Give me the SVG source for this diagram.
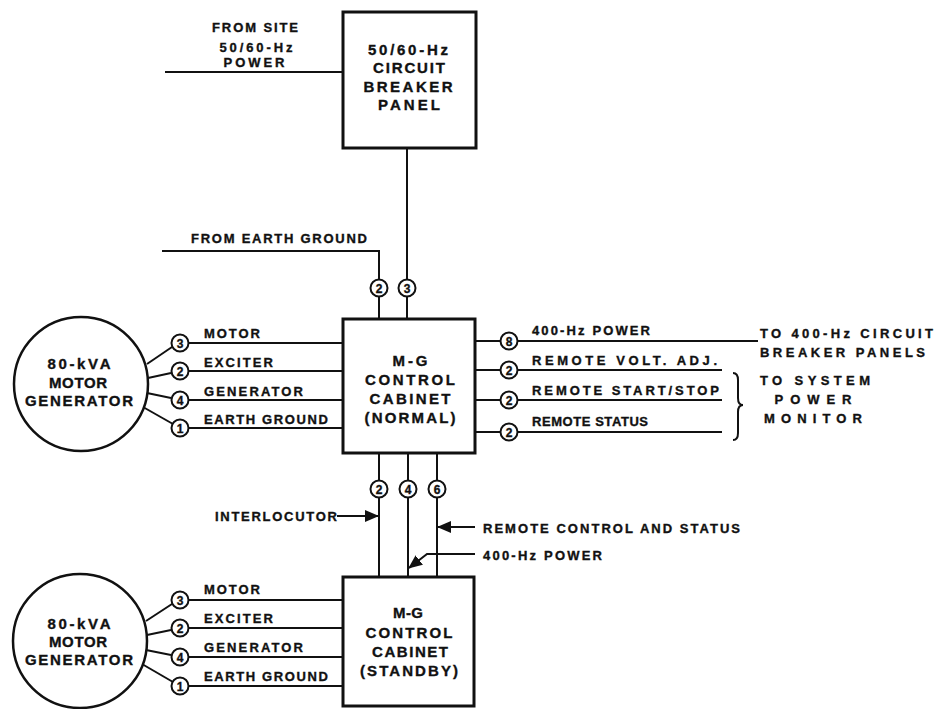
<svg xmlns="http://www.w3.org/2000/svg" width="935" height="709" viewBox="0 0 935 709">
<style>
text{font-family:"Liberation Sans",Arial,sans-serif;font-weight:bold;fill:#111;stroke:#111;stroke-width:0.35;}
.lb{font-size:13px;}
.bx{font-size:15px;text-anchor:middle;}
.num{font-size:12px;text-anchor:middle;}
.c{text-anchor:middle;}
.box{fill:#fff;stroke:#111;stroke-width:3;}
.big{fill:#fff;stroke:#111;stroke-width:2.5;}
.sc{fill:#fff;stroke:#111;stroke-width:2;}
.w{fill:none;stroke:#111;stroke-width:2;}
</style>
<defs>
<marker id="ah" markerUnits="userSpaceOnUse" markerWidth="14" markerHeight="12" viewBox="0 0 14 12" refX="13" refY="6" orient="auto">
<path d="M0,0 L14,6 L0,12 Z" fill="#111"/>
</marker>
</defs>
<rect width="935" height="709" fill="#fff"/>

<g id="connectors">
<line class="w" x1="165" y1="72" x2="343" y2="72"/>
<line class="w" x1="407" y1="148" x2="407" y2="319"/>
<polyline class="w" points="162,251 379,251 379,319"/>
<line class="w" x1="147" y1="364" x2="172" y2="347"/>
<line class="w" x1="148" y1="378" x2="171" y2="373"/>
<line class="w" x1="147" y1="393" x2="171" y2="398"/>
<line class="w" x1="143" y1="407" x2="173" y2="424"/>
<line class="w" x1="180" y1="343" x2="343" y2="343"/>
<line class="w" x1="180" y1="371" x2="343" y2="371"/>
<line class="w" x1="180" y1="400" x2="343" y2="400"/>
<line class="w" x1="180" y1="428" x2="343" y2="428"/>
<line class="w" x1="146" y1="621" x2="172" y2="604"/>
<line class="w" x1="147" y1="635" x2="171" y2="630"/>
<line class="w" x1="146" y1="650" x2="171" y2="655"/>
<line class="w" x1="142" y1="664" x2="173" y2="682"/>
<line class="w" x1="180" y1="600" x2="343" y2="600"/>
<line class="w" x1="180" y1="628" x2="343" y2="628"/>
<line class="w" x1="180" y1="657" x2="343" y2="657"/>
<line class="w" x1="180" y1="686" x2="343" y2="686"/>
<line class="w" x1="475" y1="341" x2="758" y2="341"/>
<line class="w" x1="475" y1="370" x2="722" y2="370"/>
<line class="w" x1="475" y1="400" x2="722" y2="400"/>
<line class="w" x1="475" y1="432" x2="722" y2="432"/>
<path class="w" d="M733,373 Q738,373 738,380 L738,398 Q738,405 743,405 Q738,405 738,412 L738,433 Q738,440 733,440"/>
<line class="w" x1="379" y1="453" x2="379" y2="577"/>
<line class="w" x1="408" y1="453" x2="408" y2="577"/>
<line class="w" x1="437" y1="453" x2="437" y2="577"/>
<line class="w" x1="337" y1="516" x2="378" y2="516" marker-end="url(#ah)"/>
<line class="w" x1="475" y1="527" x2="438" y2="527" marker-end="url(#ah)"/>
<polyline class="w" points="475,554 427,554 409,568" marker-end="url(#ah)"/>
</g>

<g id="breaker">
<rect class="box" x="343" y="12" width="133" height="136"/>
<text class="bx" x="408" y="55" textLength="80" lengthAdjust="spacing">50/60-Hz</text>
<text class="bx" x="409" y="73" textLength="72" lengthAdjust="spacing">CIRCUIT</text>
<text class="bx" x="408" y="92" textLength="89" lengthAdjust="spacing">BREAKER</text>
<text class="bx" x="409" y="110" textLength="62" lengthAdjust="spacing">PANEL</text>
</g>

<g id="site-power-label">
<text class="lb c" x="255" y="32" textLength="86" lengthAdjust="spacing">FROM SITE</text>
<text class="lb c" x="256" y="52" textLength="73" lengthAdjust="spacing">50/60-Hz</text>
<text class="lb c" x="254" y="67" textLength="61" lengthAdjust="spacing">POWER</text>
</g>

<g id="earth-ground-label">
<text class="lb" x="191" y="243" textLength="176" lengthAdjust="spacing">FROM EARTH GROUND</text>
</g>

<g id="top-counts">
<circle class="sc" cx="379" cy="288" r="8.5"/><text class="num" x="379" y="292.5">2</text>
<circle class="sc" cx="407" cy="288" r="8.5"/><text class="num" x="407" y="292.5">3</text>
</g>

<g id="normal-cabinet">
<rect class="box" x="343" y="319" width="132" height="134"/>
<text class="bx" x="410" y="366" textLength="35" lengthAdjust="spacing">M-G</text>
<text class="bx" x="410" y="385" textLength="90" lengthAdjust="spacing">CONTROL</text>
<text class="bx" x="410" y="404" textLength="81" lengthAdjust="spacing">CABINET</text>
<text class="bx" x="410" y="423" textLength="91" lengthAdjust="spacing">(NORMAL)</text>
</g>

<g id="mg-top">
<circle class="big" cx="81" cy="384" r="67"/>
<text class="bx" x="79" y="369" textLength="63" lengthAdjust="spacing">80-kVA</text>
<text class="bx" x="78" y="388" textLength="58" lengthAdjust="spacing">MOTOR</text>
<text class="bx" x="79" y="406" textLength="108" lengthAdjust="spacing">GENERATOR</text>
</g>

<g id="top-left-labels">
<circle class="sc" cx="180" cy="343" r="8.5"/><text class="num" x="180" y="347.5">3</text>
<circle class="sc" cx="180" cy="371" r="8.5"/><text class="num" x="180" y="375.5">2</text>
<circle class="sc" cx="180" cy="400" r="8.5"/><text class="num" x="180" y="404.5">4</text>
<circle class="sc" cx="180" cy="428" r="8.5"/><text class="num" x="180" y="432.5">1</text>
<text class="lb" x="204" y="338" textLength="56" lengthAdjust="spacing">MOTOR</text>
<text class="lb" x="204" y="367" textLength="69" lengthAdjust="spacing">EXCITER</text>
<text class="lb" x="204" y="396" textLength="99" lengthAdjust="spacing">GENERATOR</text>
<text class="lb" x="204" y="424" textLength="124" lengthAdjust="spacing">EARTH GROUND</text>
</g>

<g id="right-labels">
<circle class="sc" cx="509" cy="341" r="8.5"/><text class="num" x="509" y="345.5">8</text>
<circle class="sc" cx="509" cy="370" r="8.5"/><text class="num" x="509" y="374.5">2</text>
<circle class="sc" cx="509" cy="400" r="8.5"/><text class="num" x="509" y="404.5">2</text>
<circle class="sc" cx="509" cy="432" r="8.5"/><text class="num" x="509" y="436.5">2</text>
<text class="lb" x="532" y="335" textLength="118" lengthAdjust="spacing">400-Hz POWER</text>
<text class="lb" x="532" y="365" textLength="185" lengthAdjust="spacing">REMOTE VOLT. ADJ.</text>
<text class="lb" x="532" y="395" textLength="187" lengthAdjust="spacing">REMOTE START/STOP</text>
<text class="lb" x="532" y="426" textLength="116" lengthAdjust="spacing">REMOTE STATUS</text>
</g>

<g id="breaker-panels-dest">
<text class="lb" x="760" y="338" textLength="173" lengthAdjust="spacing">TO 400-Hz CIRCUIT</text>
<text class="lb" x="760" y="357" textLength="165" lengthAdjust="spacing">BREAKER PANELS</text>
</g>

<g id="power-monitor-dest">
<text class="lb" x="760" y="385" textLength="110" lengthAdjust="spacing">TO SYSTEM</text>
<text class="lb c" x="813" y="404" textLength="77" lengthAdjust="spacing">POWER</text>
<text class="lb c" x="813" y="423" textLength="98" lengthAdjust="spacing">MONITOR</text>
</g>

<g id="inter-counts">
<circle class="sc" cx="379" cy="489" r="8.5"/><text class="num" x="379" y="493.5">2</text>
<circle class="sc" cx="408" cy="489" r="8.5"/><text class="num" x="408" y="493.5">4</text>
<circle class="sc" cx="437" cy="489" r="8.5"/><text class="num" x="437" y="493.5">6</text>
<text class="lb" x="215" y="521" textLength="122" lengthAdjust="spacing">INTERLOCUTOR</text>
<text class="lb" x="483" y="533" textLength="257" lengthAdjust="spacing">REMOTE CONTROL AND STATUS</text>
<text class="lb" x="483" y="560" textLength="119" lengthAdjust="spacing">400-Hz POWER</text>
</g>

<g id="standby-cabinet">
<rect class="box" x="343" y="577" width="131" height="129"/>
<text class="bx" x="408" y="618" textLength="30" lengthAdjust="spacing">M-G</text>
<text class="bx" x="409" y="638" textLength="87" lengthAdjust="spacing">CONTROL</text>
<text class="bx" x="410" y="657" textLength="76" lengthAdjust="spacing">CABINET</text>
<text class="bx" x="409" y="676" textLength="98" lengthAdjust="spacing">(STANDBY)</text>
</g>

<g id="mg-bottom">
<circle class="big" cx="80" cy="641" r="67"/>
<text class="bx" x="79" y="629" textLength="63" lengthAdjust="spacing">80-kVA</text>
<text class="bx" x="78" y="647" textLength="58" lengthAdjust="spacing">MOTOR</text>
<text class="bx" x="79" y="665" textLength="108" lengthAdjust="spacing">GENERATOR</text>
</g>

<g id="bottom-left-labels">
<circle class="sc" cx="180" cy="600" r="8.5"/><text class="num" x="180" y="604.5">3</text>
<circle class="sc" cx="180" cy="628" r="8.5"/><text class="num" x="180" y="632.5">2</text>
<circle class="sc" cx="180" cy="657" r="8.5"/><text class="num" x="180" y="661.5">4</text>
<circle class="sc" cx="180" cy="686" r="8.5"/><text class="num" x="180" y="690.5">1</text>
<text class="lb" x="204" y="594" textLength="56" lengthAdjust="spacing">MOTOR</text>
<text class="lb" x="204" y="623" textLength="69" lengthAdjust="spacing">EXCITER</text>
<text class="lb" x="204" y="652" textLength="99" lengthAdjust="spacing">GENERATOR</text>
<text class="lb" x="204" y="681" textLength="124" lengthAdjust="spacing">EARTH GROUND</text>
</g>
</svg>
